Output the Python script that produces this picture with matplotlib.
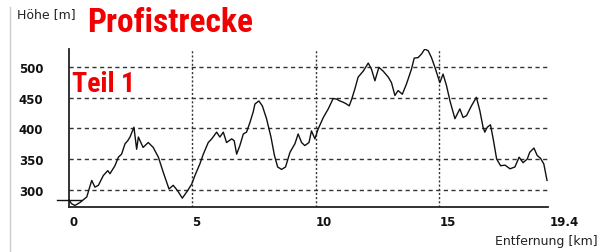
import matplotlib
matplotlib.use("Agg")
import matplotlib.pyplot as plt
from matplotlib.lines import Line2D

dist_km = [0.0, 0.1, 0.24, 0.45, 0.72, 0.92, 1.05, 1.19, 1.39, 1.57, 1.66, 1.86, 2.0, 2.13, 2.27,
           2.38, 2.47, 2.63, 2.74, 2.81, 3.0, 3.21, 3.41, 3.62, 3.82, 4.05, 4.22, 4.4, 4.59, 4.8,
           4.97, 5.1, 5.3, 5.44, 5.64, 5.78, 5.98, 6.11, 6.25, 6.38, 6.59, 6.69, 6.79, 6.92, 7.06,
           7.19, 7.33, 7.46, 7.53, 7.69, 7.83, 8.0, 8.18, 8.32, 8.45, 8.61, 8.77, 8.95, 9.15, 9.28,
           9.42, 9.55, 9.72, 9.82, 9.96, 10.09, 10.3, 10.5, 10.7, 10.84, 10.97, 11.1, 11.24, 11.35,
           11.45, 11.58, 11.71, 11.92, 12.12, 12.25, 12.39, 12.55, 12.72, 12.93, 13.06, 13.2, 13.33,
           13.5, 13.67, 13.87, 13.98, 14.14, 14.28, 14.41, 14.55, 14.68, 14.82, 15.02, 15.15, 15.29,
           15.43, 15.63, 15.83, 15.96, 16.1, 16.3, 16.5, 16.64, 16.77, 16.84, 16.94, 17.07, 17.18,
           17.32, 17.48, 17.66, 17.86, 18.06, 18.23, 18.39, 18.56, 18.66, 18.83, 18.96, 19.1, 19.23,
           19.36]
elev_m = [283, 277, 274, 279, 288, 315, 304, 307, 323, 331, 326, 339, 353, 358, 375,
          380, 386, 402, 366, 386, 369, 377, 369, 353, 328, 301, 307, 298, 286, 298,
          309, 323, 342, 358, 377, 383, 394, 386, 394, 377, 383, 380, 358, 372, 391,
          394, 410, 427, 440, 445, 437, 416, 386, 356, 337, 333, 337, 361, 375, 391,
          377, 372, 377, 396, 383, 399, 418, 432, 449, 448, 445, 443, 440, 437,
          448, 465, 484, 494, 507, 497, 478, 500, 494, 484, 475, 454, 462,
          456, 473, 497, 515, 516, 522, 530, 527, 516, 500, 475, 489, 470,
          445, 416, 432, 418, 421, 437, 451, 429, 402, 394, 402, 406, 383,
          350, 339, 340, 334, 337, 353, 344, 350, 361, 368, 356, 351, 342,
          315]

x_ticks = [0, 5, 10, 15]
x_tick_labels = ["0", "5", "10", "15"]
x_end_label = "19.4"
y_ticks = [300, 350, 400, 450, 500]
start_elev = 283

W, H = 610, 253
fig = plt.figure(figsize=(W / 100, H / 100), dpi=100)
fig.patch.set_facecolor("white")

x0, x1 = 69, 548
ytop, ybot = 50, 207.7
ax = fig.add_axes([x0 / W, 1 - ybot / H, (x1 - x0) / W, (ybot - ytop) / H])
ax.set_xlim(0, 19.4)
ax.set_ylim(272, 530)

for s in ["top", "right"]:
    ax.spines[s].set_visible(False)
for s in ["left", "bottom"]:
    ax.spines[s].set_linewidth(1.3)
    ax.spines[s].set_color("#222222")

for yv in y_ticks:
    ax.axhline(yv, color="#333333", lw=1.0, ls=(0, (3, 2.5)), zorder=1)
for xv in x_ticks[1:]:
    ax.axvline(xv, color="#333333", lw=1.0, ls=(0, (1.5, 1.5)), zorder=1)

ax.plot(dist_km, elev_m, color="#111111", lw=1.0, zorder=3)
ax.plot([-0.5, 0.5], [start_elev, start_elev], color="#111111", lw=1.0, clip_on=False, zorder=3)

ax.set_yticks(y_ticks)
ax.set_yticklabels([str(v) for v in y_ticks], fontsize=8.5, fontweight="bold", color="#111111")
ax.tick_params(axis="y", length=0, pad=18.5)
ax.set_xticks(x_ticks)
ax.set_xticklabels(x_tick_labels, fontsize=8.5, fontweight="bold", color="#111111", ha="left")
ax.tick_params(axis="x", length=0, pad=6)
ax.text(19.45, -0.055, x_end_label, transform=ax.get_xaxis_transform(), ha="left", va="top",
        fontsize=8.5, fontweight="bold", color="#111111")

fig.text(17 / W, 1 - 15 / H, "Höhe [m]", fontsize=9, color="#222222", va="center", ha="left")
fig.text(598 / W, 1 - 242 / H, "Entfernung [km]", fontsize=9, color="#222222", va="center", ha="right")

title_font = ["Roboto Condensed", "DejaVu Sans"]
t1 = fig.text(87 / W, 1 - 31.7 / H, "Profistrecke", fontsize=22, color="#f00000",
              family=title_font, fontweight="bold", va="baseline", ha="left")
t2 = fig.text(72 / W, 1 - 91.7 / H, "Teil 1", fontsize=15, color="#f00000",
              family=title_font, fontweight="bold", va="baseline", ha="left")

fig.canvas.draw()
r = fig.canvas.get_renderer()
for t, target in [(t1, 166), (t2, 63)]:
    w = t.get_window_extent(r).width
    t.set_fontsize(t.get_fontsize() * target / w)

fig.add_artist(Line2D([9.5 / W, 9.5 / W], [0, 1 - 8 / H], color="#cccccc", lw=1.0))

fig.savefig("out.png", dpi=100, facecolor="white")
